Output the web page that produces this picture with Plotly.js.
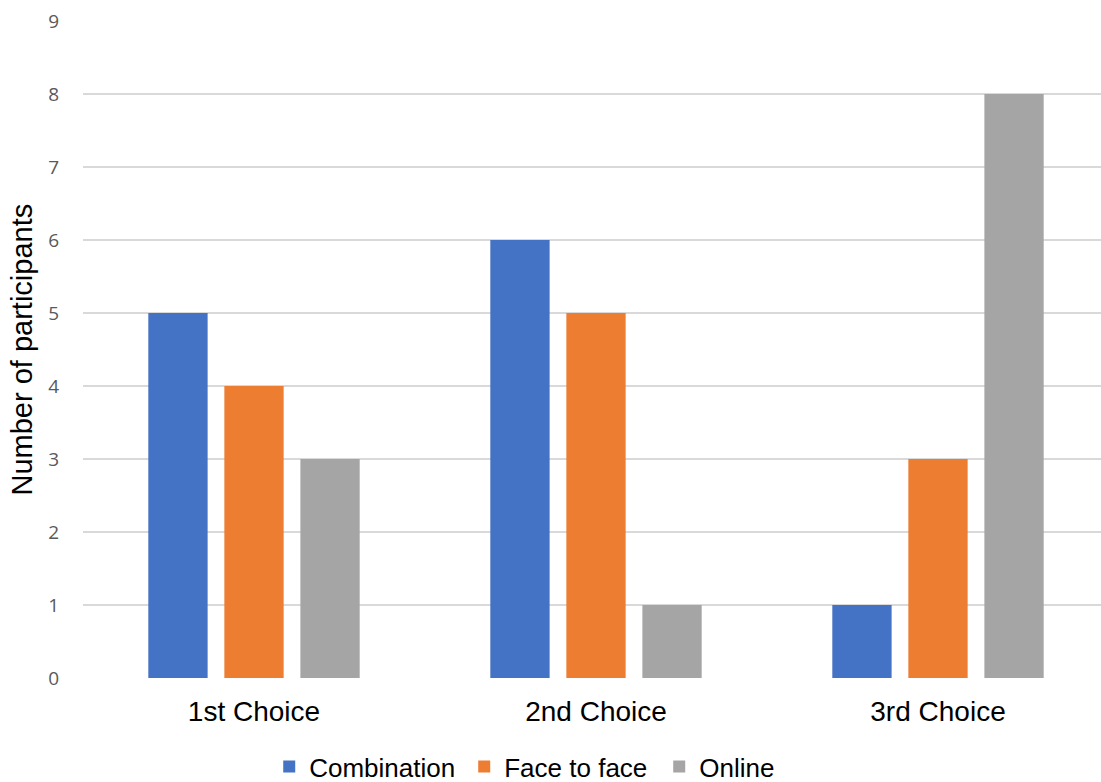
<!DOCTYPE html>
<html>
<head>
<meta charset="utf-8">
<script src="https://cdn.plot.ly/plotly-3.0.1.min.js"></script>
<style>
  html, body { margin: 0; padding: 0; overflow: hidden; background: #ffffff; }
  #chart { width: 1109px; height: 800px; }
</style>
</head>
<body>
<div id="chart"></div>
<script>
// Preferred study format by choice rank
const choices = ['1st Choice', '2nd Choice', '3rd Choice'];
const combination = [5, 6, 1];
const faceToFace = [4, 5, 3];
const online = [3, 1, 8];
const yTicks = [0, 1, 2, 3, 4, 5, 6, 7, 8, 9];

const seriesNames = ['Combination', 'Face to face', 'Online'];
const seriesColors = ['#4472C4', '#ED7D31', '#A5A5A5'];
const seriesValues = [combination, faceToFace, online];

const traces = seriesValues.map((vals, i) => ({
  type: 'bar',
  name: seriesNames[i],
  x: choices,
  y: vals,
  marker: { color: seriesColors[i], line: { width: 0 } },
  hoverinfo: 'x+y+name'
}));

const layout = {
  width: 1109,
  height: 800,
  margin: { l: 83, r: 0, t: 21, b: 122 },
  paper_bgcolor: '#ffffff',
  plot_bgcolor: '#ffffff',
  barmode: 'group',
  bargap: 0.333,
  bargroupgap: 0.22,
  showlegend: true,
  legend: {
    orientation: 'h',
    x: 0.1815,
    xanchor: 'left',
    y: -0.135,
    yanchor: 'middle',
    entrywidth: 150,
    font: { family: 'Liberation Sans, Arial, sans-serif', size: 26, color: '#000000' },
    bgcolor: 'rgba(0,0,0,0)'
  },
  xaxis: {
    type: 'category',
    showgrid: false,
    zeroline: false,
    showline: false,
    ticks: '',
    ticklabelstandoff: 14,
    tickfont: { family: 'Liberation Sans, Arial, sans-serif', size: 28, color: '#000000' }
  },
  yaxis: {
    range: [0, 9],
    tickvals: yTicks,
    ticktext: yTicks.map(String),
    showgrid: true,
    gridcolor: '#D9D9D9',
    gridwidth: 1.3,
    zeroline: false,
    showline: false,
    ticks: '',
    ticklabelstandoff: 23,
    tickfont: { family: 'Open Sans, sans-serif', size: 19, color: '#595959' }
  },
  annotations: [{
    text: 'Number of participants',
    textangle: -90,
    xref: 'paper',
    yref: 'paper',
    x: 0,
    y: 0.5,
    xanchor: 'center',
    yanchor: 'middle',
    xshift: -62,
    showarrow: false,
    font: { family: 'Liberation Sans, Arial, sans-serif', size: 29, color: '#000000' }
  }]
};

Plotly.newPlot('chart', traces, layout, { displayModeBar: false, staticPlot: true });
</script>
</body>
</html>
